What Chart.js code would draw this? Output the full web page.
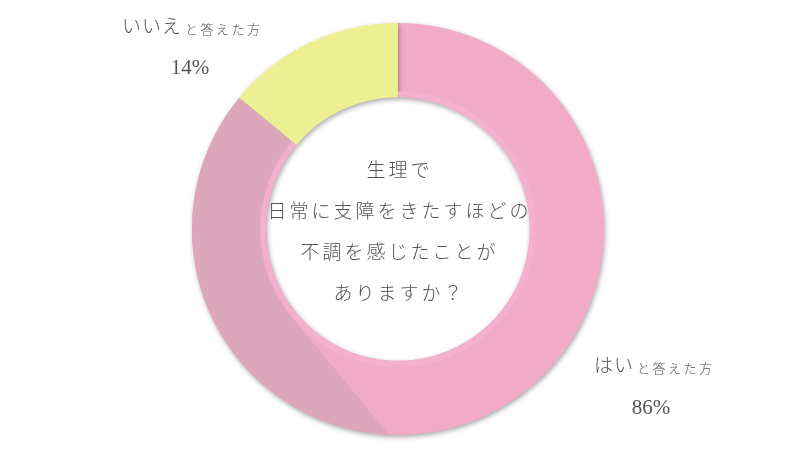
<!DOCTYPE html>
<html>
<head>
<meta charset="utf-8">
<script src="https://cdn.jsdelivr.net/npm/chart.js@4.4.1/dist/chart.umd.min.js"></script>
<style>
  html, body { margin: 0; padding: 0; background: #ffffff; }
  #wrap { position: relative; width: 800px; height: 450px; }
</style>
</head>
<body>
<div id="wrap"><canvas id="c" width="800" height="450"></canvas></div>
<script>
// ---- data ----
const categories = ['はい', 'いいえ'];
const values = [86, 14];
const percentLabels = ['86%', '14%'];
const answerSuffix = 'と答えた方';
const centerLines = ['生理で', '日常に支障をきたすほどの', '不調を感じたことが', 'ありますか？'];

// ---- styles ----
const PINK_LIGHT = '#f1abc7';
const PINK_DARK = '#dca6bb';
const PINK_BAND = 'rgba(243,176,204,0.95)';
const YELLOW = '#edf092';
const TEXT = '#555555';
const JP = '"Noto Sans CJK JP", "Noto Sans", sans-serif';
const NUM = '"Liberation Serif", "DejaVu Serif", serif';

const ringPlugin = {
  id: 'ringEffects',
  beforeDatasetDraw(chart) {
    const ctx = chart.ctx;
    ctx.save();
    ctx.shadowColor = 'rgba(0,0,0,0.35)';
    ctx.shadowBlur = 5;
    ctx.shadowOffsetX = 1;
    ctx.shadowOffsetY = 2;
  },
  afterDatasetDraw(chart) {
    const ctx = chart.ctx;
    ctx.restore();
    const arc = chart.getDatasetMeta(0).data[0];
    if (!arc) return;
    const { x: cx, y: cy, startAngle: sa, endAngle: ea, innerRadius: ri, outerRadius: ro } = arc;
    ctx.save();
    ctx.beginPath();
    ctx.arc(cx, cy, ro, sa, ea);
    ctx.arc(cx, cy, ri, ea, sa, true);
    ctx.closePath();
    ctx.clip();
    // shaded part: bounded by a line that meets the outer edge near the bottom
    // and touches the inner bevel
    const thetaP = 92.5 * Math.PI / 180;
    const rt = ri + 6;
    const thetaT = thetaP + Math.acos(rt / ro);
    const tx = cx + Math.cos(thetaT) * rt, ty = cy + Math.sin(thetaT) * rt;
    const dx = Math.sin(thetaT), dy = -Math.cos(thetaT);
    const F = 1200;
    ctx.beginPath();
    ctx.moveTo(cx, cy);
    ctx.lineTo(tx, ty);
    ctx.lineTo(tx + dx * F, ty + dy * F);
    ctx.lineTo(cx - F, cy + F);
    ctx.lineTo(cx - F, cy - F * 0.2);
    ctx.lineTo(cx + Math.cos(ea) * F, cy + Math.sin(ea) * F);
    ctx.closePath();
    ctx.fillStyle = PINK_DARK;
    ctx.fill();
    // light bevel along the inner edge
    ctx.beginPath();
    ctx.arc(cx, cy, ri + 3, sa, ea);
    ctx.lineWidth = 6;
    ctx.strokeStyle = PINK_BAND;
    ctx.stroke();
    ctx.restore();
  }
};

const textPlugin = {
  id: 'texts',
  afterDraw(chart) {
    const ctx = chart.ctx;
    const arc = chart.getDatasetMeta(0).data[0];
    if (!arc) return;
    const cx = arc.x, cy = arc.y;
    ctx.save();
    ctx.fillStyle = TEXT;
    ctx.textBaseline = 'middle';
    ctx.textAlign = 'center';
    ctx.font = '300 19px ' + JP;
    ctx.letterSpacing = '3px';
    const step = 41;
    const top = cy - 59;
    centerLines.forEach((line, i) => {
      ctx.fillText(line, cx + 1.5, top + i * step);
    });

    function answer(x, y, word, pct, pctX, pctY) {
      ctx.textAlign = 'left';
      ctx.textBaseline = 'alphabetic';
      ctx.font = '300 19px ' + JP;
      ctx.letterSpacing = '1px';
      ctx.fillText(word, x, y + 7);
      const w = ctx.measureText(word).width;
      ctx.font = '300 13px ' + JP;
      ctx.letterSpacing = '2.5px';
      ctx.fillText(answerSuffix, x + w + 3, y + 8);
      ctx.font = '21px ' + NUM;
      ctx.letterSpacing = '0px';
      ctx.textAlign = 'center';
      ctx.textBaseline = 'middle';
      ctx.fillText(pct, pctX, pctY);
    }
    answer(122, 26, 'いいえ', percentLabels[1], 190, 68);
    answer(594, 365, categories[0], percentLabels[0], 651, 408);
    ctx.restore();
  }
};

new Chart(document.getElementById('c'), {
  type: 'doughnut',
  data: {
    labels: categories,
    datasets: [{
      data: values,
      backgroundColor: [PINK_LIGHT, YELLOW],
      borderWidth: 0,
      hoverOffset: 0
    }]
  },
  options: {
    responsive: false,
    animation: false,
    cutout: '64%',
    layout: { padding: { top: 23, bottom: 15, left: 0, right: 4 } },
    plugins: {
      legend: { display: false },
      tooltip: { enabled: false }
    }
  },
  plugins: [ringPlugin, textPlugin]
});
</script>
</body>
</html>
